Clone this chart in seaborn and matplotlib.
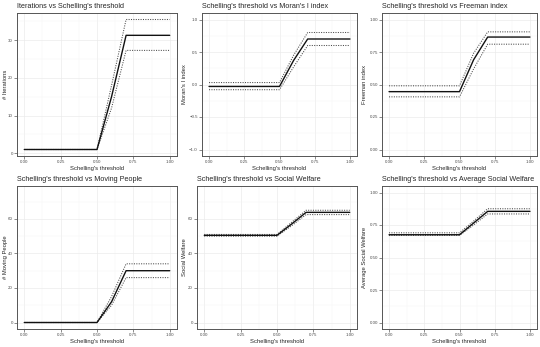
import pandas as pd
import seaborn as sns
import matplotlib.pyplot as plt
from matplotlib.ticker import MultipleLocator, FuncFormatter

# threshold values used in the runs
threshold = [0.0, 0.1, 0.2, 0.3, 0.4, 0.5, 0.6, 0.7, 0.8, 0.9, 1.0]

# mean / upper / lower for each metric
iter_mean = [1, 1, 1, 1, 1, 1, 15, 31.3, 31.3, 31.3, 31.3]
iter_up = [1, 1, 1, 1, 1, 1, 18, 35.5, 35.5, 35.5, 35.5]
iter_lo = [1, 1, 1, 1, 1, 1, 12, 27.3, 27.3, 27.3, 27.3]

moran_mean = [-0.03, -0.03, -0.03, -0.03, -0.03, -0.03, 0.37, 0.70, 0.70, 0.70, 0.70]
moran_up = [0.03, 0.03, 0.03, 0.03, 0.03, 0.03, 0.45, 0.80, 0.80, 0.80, 0.80]
moran_lo = [-0.08, -0.08, -0.08, -0.08, -0.08, -0.08, 0.27, 0.60, 0.60, 0.60, 0.60]

free_mean = [0.445, 0.445, 0.445, 0.445, 0.445, 0.445, 0.69, 0.865, 0.865, 0.865, 0.865]
free_up = [0.49, 0.49, 0.49, 0.49, 0.49, 0.49, 0.74, 0.905, 0.905, 0.905, 0.905]
free_lo = [0.405, 0.405, 0.405, 0.405, 0.405, 0.405, 0.62, 0.81, 0.81, 0.81, 0.81]

move_mean = [0, 0, 0, 0, 0, 0, 12, 30, 30, 30, 30]
move_up = [0, 0, 0, 0, 0, 0, 15, 34, 34, 34, 34]
move_lo = [0, 0, 0, 0, 0, 0, 10, 26, 26, 26, 26]

sw_mean = [50.5, 50.5, 50.5, 50.5, 50.5, 50.5, 57, 63.8, 63.8, 63.8, 63.8]
sw_up = [51, 51, 51, 51, 51, 51, 58, 65, 65, 65, 65]
sw_lo = [50, 50, 50, 50, 50, 50, 56, 62.5, 62.5, 62.5, 62.5]

asw_mean = [0.675, 0.675, 0.675, 0.675, 0.675, 0.675, 0.765, 0.855, 0.855, 0.855, 0.855]
asw_up = [0.69, 0.69, 0.69, 0.69, 0.69, 0.69, 0.78, 0.875, 0.875, 0.875, 0.875]
asw_lo = [0.67, 0.67, 0.67, 0.67, 0.67, 0.67, 0.75, 0.835, 0.835, 0.835, 0.835]

titles = ["Iterations vs Schelling's threshold",
          "Schelling's threshold vs Moran's I index",
          "Schelling's threshold vs Freeman index",
          "Schelling's threshold vs Moving People",
          "Schelling's threshold vs Social Welfare",
          "Schelling's threshold vs Average Social Welfare"]
ylabels = ["# Iterations", "Moran's I index", "Freeman index",
           "# Moving People", "Social Welfare", "Average Social Welfare"]
series = [(iter_mean, iter_up, iter_lo), (moran_mean, moran_up, moran_lo),
          (free_mean, free_up, free_lo), (move_mean, move_up, move_lo),
          (sw_mean, sw_up, sw_lo), (asw_mean, asw_up, asw_lo)]
ylims = [None, (-1, 1), (0, 1), (0, 75.3), (0, 75.3), (0, 1)]
ysteps = [10, 0.5, 0.25, 20, 20, 0.25]

sns.set_theme(style="white")
plt.rcParams['font.family'] = ['Liberation Sans', 'DejaVu Sans']

fig = plt.figure(figsize=(5.4, 3.47), dpi=100)
W, H = 540, 347
# panel boxes in pixels: left, top, right, bottom
boxes = [(17, 13, 177, 156), (202, 13, 357, 156), (382, 13, 537, 156),
         (17, 186, 177, 329), (197, 186, 357, 329), (382, 186, 537, 329)]
# y-label position, pixels left of the panel
ylab_off = [9, 15, 15, 9, 10, 15]

for i in range(6):
    l, t, r, b = boxes[i]
    ax = fig.add_axes([l / W, 1 - b / H, (r - l) / W, (b - t) / H])
    m, u, lo = series[i]
    df = pd.DataFrame({'x': threshold * 3, 'y': m + u + lo,
                       'kind': ['mean'] * 11 + ['up'] * 11 + ['lo'] * 11})
    for k in ['up', 'lo']:
        sns.lineplot(data=df[df.kind == k], x='x', y='y', ax=ax, color='#4a4a4a',
                     linestyle=(0, (1, 1.3)), linewidth=0.75)
    sns.lineplot(data=df[df.kind == 'mean'], x='x', y='y', ax=ax, color='#111111',
                 linewidth=1.0)
    ax.set_xlim(-0.05, 1.05)
    if ylims[i] is None:
        lo_v, hi_v = min(lo + m), max(u + m)
    else:
        lo_v, hi_v = ylims[i]
    pad = (hi_v - lo_v) * 0.05
    ax.set_ylim(lo_v - pad, hi_v + pad)
    ax.xaxis.set_major_locator(MultipleLocator(0.25))
    ax.xaxis.set_minor_locator(MultipleLocator(0.125))
    ax.yaxis.set_major_locator(MultipleLocator(ysteps[i]))
    ax.yaxis.set_minor_locator(MultipleLocator(ysteps[i] / 2))
    ax.xaxis.set_major_formatter(FuncFormatter(lambda v, p: f"{v:.2f}"))
    if ysteps[i] == 0.25:
        ax.yaxis.set_major_formatter(FuncFormatter(lambda v, p: f"{v:.2f}"))
    elif ysteps[i] == 0.5:
        ax.yaxis.set_major_formatter(FuncFormatter(
            lambda v, p: f"{v:.1f}".replace('-', '\u2212')))
    else:
        ax.yaxis.set_major_formatter(FuncFormatter(lambda v, p: f"{v:.0f}"))
    ax.grid(True, which='major', color='#ebebeb', linewidth=0.5)
    ax.grid(True, which='minor', color='#f4f4f4', linewidth=0.3)
    ax.set_axisbelow(True)
    for s in ax.spines.values():
        s.set_color('#555555')
        s.set_linewidth(0.7)
    ax.tick_params(axis='both', which='major', labelsize=3.2, length=2, width=0.4,
                   color='#333333', labelcolor='#4d4d4d', pad=1, bottom=True, left=True)
    ax.tick_params(which='minor', length=0)
    ax.set_xlabel("Schelling's threshold", fontsize=4.2, labelpad=1)
    ax.set_ylabel(ylabels[i], fontsize=4.2)
    ax.yaxis.set_label_coords(-ylab_off[i] / (r - l), 0.5)
    ax.set_title(titles[i], fontsize=5.2, loc='left', pad=3.5)

fig.savefig('out.png', dpi=100)
